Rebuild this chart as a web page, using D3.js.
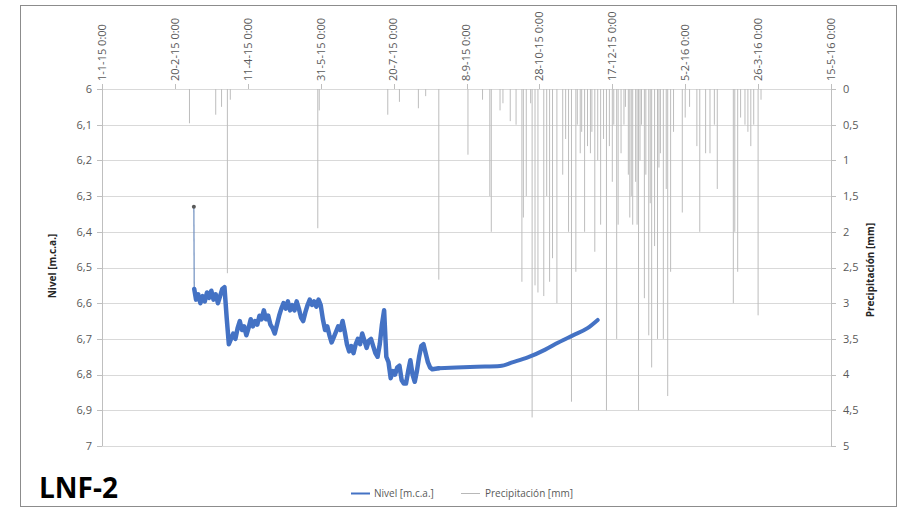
<!DOCTYPE html>
<html><head><meta charset="utf-8">
<script src="https://cdn.jsdelivr.net/npm/d3@7"></script>
<style>
body{margin:0;background:#fff;}
text{font-family:"Open Sans",sans-serif;}
</style></head>
<body><svg id="c" width="907" height="508"></svg>
<script>
// ---------- DATA ----------
const topTickDates = ["2015-01-01","2015-02-20","2015-04-11","2015-05-31","2015-07-20","2015-09-08","2015-10-28","2015-12-17","2016-02-05","2016-03-26","2016-05-15"];
const topTickLabels = ["1-1-15 0:00","20-2-15 0:00","11-4-15 0:00","31-5-15 0:00","20-7-15 0:00","8-9-15 0:00","28-10-15 0:00","17-12-15 0:00","5-2-16 0:00","26-3-16 0:00","15-5-16 0:00"];
const leftTicks = [6,6.1,6.2,6.3,6.4,6.5,6.6,6.7,6.8,6.9,7];
const leftTickLabels = ["6","6,1","6,2","6,3","6,4","6,5","6,6","6,7","6,8","6,9","7"];
const rightTicks = [0,0.5,1,1.5,2,2.5,3,3.5,4,4.5,5];
const rightTickLabels = ["0","0,5","1","1,5","2","2,5","3","3,5","4","4,5","5"];

// Nivel [m.c.a.] (first point is the isolated reading)
const levelDates = [
"2015-03-05 00","2015-03-05 06","2015-03-06 12","2015-03-08 00","2015-03-09 12","2015-03-11 00","2015-03-12 12","2015-03-14 00","2015-03-15 12","2015-03-17 00","2015-03-18 12",
"2015-03-20 00","2015-03-21 12","2015-03-23 00","2015-03-24 12","2015-03-26 00","2015-03-27 12","2015-03-29 00","2015-03-30 12","2015-04-01 00","2015-04-02 12",
"2015-04-04 00","2015-04-05 12","2015-04-07 00","2015-04-08 12","2015-04-10 00","2015-04-11 12","2015-04-13 00","2015-04-14 12","2015-04-16 00","2015-04-17 12",
"2015-04-19 00","2015-04-20 12","2015-04-22 00","2015-04-23 12","2015-04-25 00","2015-04-26 12","2015-04-28 00","2015-04-29 12","2015-05-01 00","2015-05-02 12",
"2015-05-04 00","2015-05-05 12","2015-05-07 00","2015-05-08 12","2015-05-10 00","2015-05-11 12","2015-05-13 00","2015-05-14 12","2015-05-16 00","2015-05-17 12",
"2015-05-19 00","2015-05-20 12","2015-05-22 00","2015-05-23 12","2015-05-25 00","2015-05-26 12","2015-05-28 00","2015-05-29 12","2015-05-31 00","2015-06-01 12",
"2015-06-03 00","2015-06-04 12","2015-06-06 00","2015-06-07 12","2015-06-09 00","2015-06-10 12","2015-06-12 00","2015-06-13 12","2015-06-15 00","2015-06-16 12",
"2015-06-18 00","2015-06-19 12","2015-06-21 00","2015-06-22 12","2015-06-24 00","2015-06-25 12","2015-06-27 00","2015-06-28 12","2015-06-30 00","2015-07-01 12",
"2015-07-03 00","2015-07-04 12","2015-07-06 00","2015-07-07 12","2015-07-09 00","2015-07-10 12","2015-07-12 00","2015-07-13 12","2015-07-15 00","2015-07-16 12",
"2015-07-18 00","2015-07-19 12","2015-07-21 00","2015-07-22 12","2015-07-24 00","2015-07-25 12","2015-07-27 00","2015-07-28 12","2015-07-30 00","2015-07-31 12",
"2015-08-02 00","2015-08-03 12","2015-08-05 00","2015-08-06 12","2015-08-08 00","2015-08-09 12","2015-08-11 00","2015-08-12 12","2015-08-14 00","2015-08-15 12",
"2015-08-20 00","2015-09-01 00","2015-09-15 00","2015-10-01 00","2015-10-10 00","2015-10-20 00","2015-11-01 00","2015-11-10 00","2015-11-20 00","2015-11-30 00","2015-12-07 00"];
const levelValues = [
6.33,6.56,6.59,6.575,6.60,6.58,6.595,6.57,6.585,6.565,6.59,
6.575,6.60,6.58,6.56,6.555,6.64,6.715,6.70,6.685,6.70,
6.67,6.65,6.675,6.665,6.69,6.67,6.645,6.665,6.65,6.66,
6.635,6.645,6.62,6.645,6.635,6.66,6.67,6.685,6.66,6.635,
6.615,6.60,6.615,6.595,6.62,6.605,6.62,6.595,6.615,6.64,
6.65,6.625,6.605,6.59,6.605,6.595,6.61,6.59,6.605,6.645,
6.675,6.665,6.69,6.71,6.695,6.68,6.665,6.675,6.65,6.68,
6.715,6.735,6.72,6.74,6.715,6.70,6.715,6.685,6.705,6.725,
6.705,6.70,6.72,6.74,6.75,6.715,6.66,6.62,6.75,6.765,
6.81,6.79,6.80,6.78,6.775,6.815,6.825,6.825,6.79,6.76,
6.80,6.82,6.79,6.75,6.72,6.715,6.74,6.765,6.78,6.785,
6.782,6.78,6.778,6.776,6.765,6.752,6.73,6.71,6.69,6.67,6.647];

// Precipitación [mm]
const precipDates = [
"2015-03-02","2015-03-20","2015-03-24","2015-03-28","2015-03-30","2015-05-29","2015-05-30","2015-07-16","2015-07-24","2015-08-06","2015-08-11","2015-08-20","2015-09-09",
"2015-09-19","2015-09-24","2015-09-25","2015-10-01","2015-10-03","2015-10-08","2015-10-12","2015-10-16","2015-10-17","2015-10-19","2015-10-22","2015-10-23","2015-10-25","2015-10-27","2015-10-31",
"2015-11-02","2015-11-04","2015-11-06","2015-11-09","2015-11-13","2015-11-15","2015-11-17","2015-11-19","2015-11-22","2015-11-23","2015-11-25","2015-11-26","2015-11-28","2015-11-30",
"2015-12-02","2015-12-03","2015-12-05","2015-12-07","2015-12-09","2015-12-11","2015-12-13","2015-12-15","2015-12-17","2015-12-18","2015-12-20","2015-12-21","2015-12-23","2015-12-25","2015-12-26","2015-12-28","2015-12-29","2015-12-30","2015-12-31",
"2016-01-02","2016-01-03","2016-01-04","2016-01-05","2016-01-06","2016-01-08","2016-01-09","2016-01-11","2016-01-12","2016-01-13","2016-01-15","2016-01-17","2016-01-18","2016-01-19","2016-01-21","2016-01-23","2016-01-24","2016-01-26","2016-01-28",
"2016-02-03","2016-02-05","2016-02-08","2016-02-13","2016-02-15","2016-02-19","2016-02-22","2016-02-25","2016-02-27","2016-03-09","2016-03-10","2016-03-12","2016-03-14","2016-03-17","2016-03-19","2016-03-21","2016-03-23","2016-03-26","2016-03-28"];
const precipValues = [
0.48,0.36,0.25,2.58,0.15,1.95,0.3,0.36,0.18,0.27,0.1,2.67,0.92,
0.15,1.5,2.0,0.3,0.2,0.45,0.5,2.7,1.8,1.5,0.2,4.6,2.75,2.85,2.9,
1.5,2.7,2.37,3.0,1.2,0.7,2.0,4.38,2.56,0.5,0.9,0.6,2.0,0.8,
0.9,0.6,2.28,1.0,1.9,0.7,4.5,0.8,1.3,0.5,3.5,1.9,0.9,0.5,0.25,1.2,1.8,1.5,1.9,
1.3,1.9,4.5,1.0,0.5,2.93,1.2,3.45,1.6,3.9,2.2,3.5,1.1,0.9,3.5,1.4,4.3,2.56,0.6,
1.73,0.4,0.25,0.8,2.0,0.9,0.9,0.5,1.4,3.0,2.0,2.56,0.4,0.5,0.6,0.8,0.5,3.17,0.15];

// ---------- CHART ----------
const svg = d3.select("#c");
svg.append("rect").attr("width",907).attr("height",508).attr("fill","#fff");
svg.append("rect").attr("x",20.5).attr("y",5.5).attr("width",876).attr("height",501)
  .attr("fill","none").attr("stroke","#8c8c8c");

const L=102, R=831, T=89, B=446;
const pd = d3.utcParse("%Y-%m-%d");
const ph = d3.utcParse("%Y-%m-%d %H");
const x = d3.scaleUtc().domain([pd("2015-01-01"), pd("2016-05-15")]).range([L,R]);
const yL = d3.scaleLinear().domain([6,7]).range([T,B]);
const yR = d3.scaleLinear().domain([0,5]).range([T,B]);

// gridlines
svg.append("g").selectAll("line").data(leftTicks).join("line")
  .attr("x1",L).attr("x2",R).attr("y1",d=>Math.round(yL(d))+0.5).attr("y2",d=>Math.round(yL(d))+0.5)
  .attr("stroke","#d9d9d9").attr("stroke-width",1);

// left axis
const gl = svg.append("g");
gl.append("line").attr("x1",L+0.5).attr("x2",L+0.5).attr("y1",T).attr("y2",B).attr("stroke","#bfbfbf");
gl.selectAll("line.t").data(leftTicks).join("line").attr("class","t")
  .attr("x1",L-5).attr("x2",L).attr("y1",d=>Math.round(yL(d))+0.5).attr("y2",d=>Math.round(yL(d))+0.5).attr("stroke","#bfbfbf");
gl.selectAll("text").data(leftTicks).join("text")
  .attr("x",L-10).attr("y",d=>yL(d)).attr("dy","0.35em").attr("text-anchor","end")
  .attr("font-size",11).attr("fill","#595959").text((d,i)=>leftTickLabels[i]);

// right axis
const gr = svg.append("g");
gr.append("line").attr("x1",R+0.5).attr("x2",R+0.5).attr("y1",T).attr("y2",B).attr("stroke","#bfbfbf");
gr.selectAll("line.t").data(rightTicks).join("line").attr("class","t")
  .attr("x1",R).attr("x2",R+5).attr("y1",d=>Math.round(yR(d))+0.5).attr("y2",d=>Math.round(yR(d))+0.5).attr("stroke","#bfbfbf");
gr.selectAll("text").data(rightTicks).join("text")
  .attr("x",R+12).attr("y",d=>yR(d)).attr("dy","0.35em").attr("text-anchor","start")
  .attr("font-size",11).attr("fill","#595959").text((d,i)=>rightTickLabels[i]);

// top axis
const gt = svg.append("g");
gt.selectAll("line").data(topTickDates).join("line")
  .attr("x1",d=>Math.round(x(pd(d)))+0.5).attr("x2",d=>Math.round(x(pd(d)))+0.5)
  .attr("y1",T-5).attr("y2",T).attr("stroke","#bfbfbf");
gt.selectAll("text").data(topTickDates).join("text")
  .attr("transform",d=>`translate(${x(pd(d))},${T-8}) rotate(-90)`)
  .attr("dy","0.35em").attr("text-anchor","start")
  .attr("font-size",11).attr("fill","#595959").text((d,i)=>topTickLabels[i]);

// precipitation spikes (line series on secondary axis)
const line2 = d3.line().x(d=>x(d[0])).y(d=>yR(d[1]));
svg.append("g").selectAll("path").data(precipDates.map((d,i)=>[pd(d),precipValues[i]])).join("path")
  .attr("d",d=>line2([[d[0],0],[d[0],d[1]]]))
  .attr("stroke","#bdbdbd").attr("stroke-width",1).attr("fill","none");

// level
const lv = levelDates.map((d,i)=>[ph(d),levelValues[i]]);
const line1 = d3.line().x(d=>x(d[0])).y(d=>yL(d[1]));
const line1s = d3.line().x(d=>x(d[0])).y(d=>yL(d[1])).curve(d3.curveMonotoneX);
const nNoisy = 111; // index of last zig-zag reading
svg.append("path").attr("d",line1(lv.slice(0,2))).attr("stroke","#6f8fc0").attr("stroke-width",1.2).attr("fill","none");
svg.append("path").attr("d",line1(lv.slice(1,nNoisy+1))).attr("stroke","#4472c4").attr("stroke-width",4.5)
  .attr("stroke-linejoin","round").attr("stroke-linecap","round").attr("fill","none");
svg.append("path").attr("d",line1s(lv.slice(nNoisy))).attr("stroke","#4472c4").attr("stroke-width",4)
  .attr("stroke-linejoin","round").attr("stroke-linecap","round").attr("fill","none");
svg.append("circle").attr("cx",x(lv[0][0])).attr("cy",yL(lv[0][1])).attr("r",2).attr("fill","#595959");

// axis titles
svg.append("text").attr("transform","translate(52,266) rotate(-90)").attr("dy","0.35em")
  .attr("text-anchor","middle").attr("font-size",10).attr("font-weight","bold").attr("fill","#262626").text("Nivel [m.c.a.]");
svg.append("text").attr("transform","translate(870,270) rotate(-90)").attr("dy","0.35em")
  .attr("text-anchor","middle").attr("font-size",10).attr("font-weight","bold").attr("fill","#262626").text("Precipitación [mm]");

// legend
const lg = svg.append("g");
lg.append("line").attr("x1",351).attr("x2",370).attr("y1",493.5).attr("y2",493.5).attr("stroke","#4472c4").attr("stroke-width",2);
lg.append("text").attr("x",374).attr("y",493).attr("dy","0.35em").attr("font-size",10).attr("fill","#595959").text("Nivel [m.c.a.]");
lg.append("line").attr("x1",461).attr("x2",480).attr("y1",493.5).attr("y2",493.5).attr("stroke","#b8b8b8").attr("stroke-width",1);
lg.append("text").attr("x",485).attr("y",493).attr("dy","0.35em").attr("font-size",10).attr("fill","#595959").text("Precipitación [mm]");

// station label
svg.append("text").attr("x",39).attr("y",498).attr("font-family","'DejaVu Sans Condensed','DejaVu Sans',sans-serif")
  .attr("font-weight","bold").attr("font-size",28).attr("fill","#000").text("LNF-2");
</script></body></html>
